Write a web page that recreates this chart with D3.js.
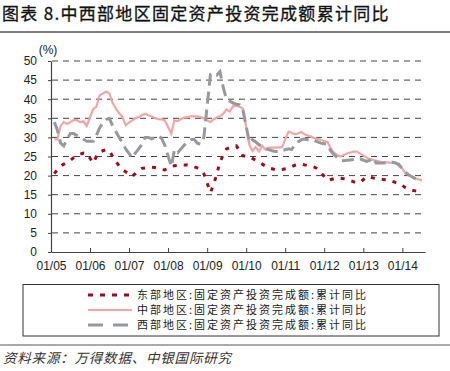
<!DOCTYPE html>
<html>
<head>
<meta charset="utf-8">
<script src="https://cdn.jsdelivr.net/npm/d3@7"></script>
<style>
  body { margin: 0; background: #fff; }
  svg { display: block; }
</style>
</head>
<body>
<div id="container"></div>
<script>
// months of data (January is not published, so each year runs Feb-Dec)
let months = [
  "2005-02","2005-03","2005-04","2005-05","2005-06","2005-07","2005-08","2005-09","2005-10","2005-11","2005-12",
  "2006-02","2006-03","2006-04","2006-05","2006-06","2006-07","2006-08","2006-09","2006-10","2006-11","2006-12",
  "2007-02","2007-03","2007-04","2007-05","2007-06","2007-07","2007-08","2007-09","2007-10","2007-11","2007-12",
  "2008-02","2008-03","2008-04","2008-05","2008-06","2008-07","2008-08","2008-09","2008-10","2008-11","2008-12",
  "2009-02","2009-03","2009-04","2009-05","2009-06","2009-07","2009-08","2009-09","2009-10","2009-11","2009-12",
  "2010-02","2010-03","2010-04","2010-05","2010-06","2010-07","2010-08","2010-09","2010-10","2010-11","2010-12",
  "2011-02","2011-03","2011-04","2011-05","2011-06","2011-07","2011-08","2011-09","2011-10","2011-11","2011-12",
  "2012-02","2012-03","2012-04","2012-05","2012-06","2012-07","2012-08","2012-09","2012-10","2012-11","2012-12",
  "2013-02","2013-03","2013-04","2013-05","2013-06","2013-07","2013-08","2013-09","2013-10","2013-11","2013-12",
  "2014-02","2014-03","2014-04","2014-05","2014-06","2014-07"
];

let east = [
  20.5,21.5,22.5,23,23.5,24,24.7,25.2,25.6,25.9,25.8,
  23.3,25,26.2,26.5,26.8,26.5,25,23.7,22.5,21.5,21,
  19.8,20.5,21.3,21.9,22,22.1,22.2,22.1,21.9,21.6,21.5,
  22.4,22.6,22.7,22.8,22.8,22.8,22.6,22.3,22,21.5,20.5,
  15.6,17.5,20.5,23.5,25.5,27,27.3,27.6,27.8,26.5,25.2,
  25,24.5,24,23.5,23,22.5,22,21.8,21.5,21.5,21.6,
  21.9,22.3,22.7,22.9,23,22.8,22.6,22.5,22.2,21.8,20.8,
  18.8,19,19.2,19.3,19.3,19.2,19,18.7,18.4,18.2,18.2,
  19.7,19.6,19.4,19.2,19.1,19,18.9,18.8,18.5,18.2,18,
  16.8,16.4,16.2,16,15.9,15.8
];

let central = [
  29.5,29.5,33,34,33.5,34,34.5,34.5,34,34.2,33,
  37.5,38,41,41.5,42,41.5,39,37.5,36.3,35.3,33.2,
  34.5,35,35.3,35.8,36.2,35.8,35.5,35,34.8,34.7,34.5,
  31,34.5,34.3,34.8,35.2,35.3,35.5,35.5,35.5,35.3,35,
  34,34.7,35.2,35.5,36.2,37.3,36.8,38.2,38.3,38,37.5,
  28,26.5,27.5,26.3,27.8,26.8,27.3,27.3,27.3,27.4,27.4,
  31.5,31.2,30.8,31,31.4,30.8,30.5,30.2,29.8,29.6,29.3,
  28.8,27.2,26,25.4,25,25.4,25.8,26,26.3,26.3,25.8,
  24.7,24.3,24.1,23.9,23.7,23.5,23.5,23.4,23.3,23.3,23.1,
  20.5,20.2,19.6,19.3,19,18.8
];

let west = [
  34,32,28.5,27.8,29.5,31,31,30.5,30,29.5,29,
  29,30.5,32.5,33.8,34.7,35,33,31.5,30,28.5,27,
  24.6,25.9,27,28.1,30,30,29.6,30,30.4,29.8,28,
  22.4,26.8,26,27,28,28.8,29.4,29.5,28.5,28.2,30,
  46.5,46.8,46.3,47.2,43,40,39.5,39,38.7,38.5,37.3,
  28.6,29.4,28.8,28.1,27.6,27,26.8,26.5,26.3,26.3,26.5,
  27,26.8,28,28.8,29.4,29.6,29.4,29.4,29.2,28.8,28.5,
  28.2,26.5,25.5,24.8,24,23.9,24,24.1,24.2,24.3,24.4,
  23.7,24,24.6,23.3,23.3,23.3,23.4,23.5,23.5,23.3,22.8,
  20.8,20.2,19.7,19.2,18.9,18.6
];

let xTicks = ["2005-01","2006-01","2007-01","2008-01","2009-01","2010-01","2011-01","2012-01","2013-01","2014-01"];
let yTicks = [0,5,10,15,20,25,30,35,40,45,50];

let seriesNames = [
  "东部地区:固定资产投资完成额:累计同比",
  "中部地区:固定资产投资完成额:累计同比",
  "西部地区:固定资产投资完成额:累计同比"
];

let width = 450;
let height = 371;
let cjk = "'Noto Sans CJK SC', sans-serif";
let latin = "'Liberation Sans', Arial, sans-serif";

let parse = d3.timeParse("%Y-%m");

const svg = d3.select("#container")
              .append("svg")
              .attr("width", width)
              .attr("height", height);

// title and rules
svg.append("text")
   .attr("x", 2)
   .attr("y", 20)
   .attr("font-family", cjk)
   .attr("font-size", 17)
   .attr("letter-spacing", 1.3)
   .attr("fill", "#111")
   .attr("stroke", "#111")
   .attr("stroke-width", 0.3)
   .text("图表 8.中西部地区固定资产投资完成额累计同比");

svg.append("line")
   .attr("x1", 0).attr("x2", width)
   .attr("y1", 32).attr("y2", 32)
   .attr("stroke", "#555").attr("stroke-width", 1.5);

svg.append("line")
   .attr("x1", 0).attr("x2", width)
   .attr("y1", 345).attr("y2", 345)
   .attr("stroke", "#555").attr("stroke-width", 1.2);

svg.append("text")
   .attr("x", 3)
   .attr("y", 363)
   .attr("font-family", cjk)
   .attr("font-style", "italic")
   .attr("font-size", 13.5)
   .attr("letter-spacing", 0.8)
   .attr("fill", "#333")
   .text("资料来源：万得数据、中银国际研究");

// scales
const xScale = d3.scaleTime()
                 .domain([parse("2005-01"), new Date(2014, 7, 1)])
                 .range([51, 425]);

const yScale = d3.scaleLinear()
                 .domain([0, 50])
                 .range([252, 61]);

// gridlines
svg.append("g")
   .selectAll("line")
   .data(yTicks.filter((d) => d > 0))
   .enter()
   .append("line")
   .attr("x1", 52)
   .attr("x2", 424)
   .attr("y1", (d) => yScale(d))
   .attr("y2", (d) => yScale(d))
   .attr("stroke", "#444")
   .attr("stroke-width", 1)
   .attr("stroke-dasharray", "6,5");

// axes
const xAxis = d3.axisBottom(xScale)
                .tickValues(xTicks.map(parse))
                .tickFormat(d3.timeFormat("%m/%y"))
                .tickSizeInner(-4)
                .tickSizeOuter(0)
                .tickPadding(9);

const gx = svg.append("g")
              .attr("transform", "translate(0," + yScale(0) + ")")
              .call(xAxis);

const yAxis = d3.axisLeft(yScale)
                .tickValues(yTicks)
                .tickSizeInner(3)
                .tickSizeOuter(0)
                .tickPadding(11);

const gy = svg.append("g")
              .attr("transform", "translate(" + xScale(parse("2005-01")) + ",0)")
              .call(yAxis);

[gx, gy].forEach((g) => {
  g.select(".domain").attr("stroke", "#444").attr("stroke-width", 1.2);
  g.selectAll(".tick line").attr("stroke", "#444");
  g.selectAll(".tick text")
   .attr("font-family", latin)
   .attr("font-size", 12)
   .attr("fill", "#222");
});

svg.append("text")
   .attr("x", 48)
   .attr("y", 54)
   .attr("text-anchor", "middle")
   .attr("font-family", latin)
   .attr("font-size", 12)
   .attr("fill", "#222")
   .text("(%)");

// lines
let styles = [
  { values: east,    color: "#A00A1A", w: 3,   dash: "4,7" },
  { values: central, color: "#F2A5A6", w: 2.2, dash: null },
  { values: west,    color: "#97999C", w: 3,   dash: "12,6" }
];

const line = d3.line()
               .x((d, i) => xScale(parse(months[i])))
               .y((d) => yScale(d));

styles.forEach((s) => {
  svg.append("path")
     .datum(s.values)
     .attr("fill", "none")
     .attr("stroke", s.color)
     .attr("stroke-width", s.w)
     .attr("stroke-dasharray", s.dash)
     .attr("d", line);
});

// legend
let legend = svg.append("g");

legend.append("rect")
      .attr("x", 23)
      .attr("y", 284.5)
      .attr("width", 416)
      .attr("height", 51.5)
      .attr("fill", "none")
      .attr("stroke", "#333")
      .attr("stroke-width", 1);

styles.forEach((s, i) => {
  let yy = 295 + i * 15;
  legend.append("line")
        .attr("x1", 88).attr("x2", 132)
        .attr("y1", yy).attr("y2", yy)
        .attr("stroke", s.color)
        .attr("stroke-width", s.w)
        .attr("stroke-dasharray", s.dash ? (i === 0 ? "5,7" : "15,10") : null);
  legend.append("text")
        .attr("x", 137)
        .attr("y", yy + 4)
        .attr("font-family", cjk)
        .attr("font-size", 11)
        .style("letter-spacing", "2px")
        .attr("fill", "#222")
        .text(seriesNames[i]);
});
</script>
</body>
</html>
